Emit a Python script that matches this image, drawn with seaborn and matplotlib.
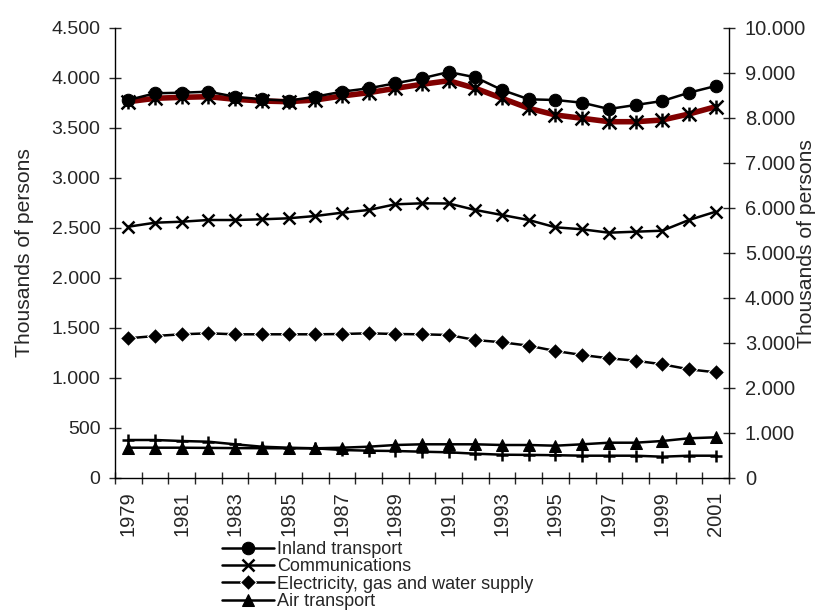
import seaborn as sns
import matplotlib.pyplot as plt
from matplotlib.path import Path
from matplotlib.ticker import FuncFormatter, MultipleLocator

# values (thousands of persons)
years = list(range(1979, 2002))
inland = [3777, 3844, 3850, 3860, 3810, 3784, 3770, 3810, 3860, 3894, 3944, 3994,
          4057, 4004, 3877, 3784, 3777, 3750, 3687, 3727, 3767, 3850, 3917]
communications = [2510, 2550, 2560, 2577, 2577, 2584, 2594, 2617, 2650, 2677, 2734, 2744,
                  2742, 2677, 2627, 2577, 2504, 2484, 2450, 2460, 2470, 2577, 2660]
electricity = [1394, 1417, 1434, 1444, 1434, 1434, 1434, 1434, 1437, 1444, 1437, 1434,
               1427, 1377, 1354, 1320, 1267, 1227, 1194, 1170, 1134, 1084, 1054]
air = [300, 300, 300, 298, 296, 295, 294, 294, 300, 310, 327, 334,
       334, 334, 327, 327, 320, 334, 350, 350, 367, 394, 404]
other = [377, 377, 367, 360, 334, 310, 300, 294, 277, 270, 267, 260,
         254, 240, 230, 228, 225, 220, 220, 220, 210, 220, 220]
total = [8356, 8431, 8453, 8467, 8409, 8371, 8356, 8393, 8482, 8556, 8653, 8742,
         8822, 8653, 8431, 8209, 8060, 7987, 7911, 7911, 7949, 8082, 8244]

sns.set_style('ticks')
plt.rcParams['font.family'] = ['Liberation Sans', 'DejaVu Sans']

# asterisk marker (x with a vertical bar)
asterisk = Path([(0, -1), (0, 1), (-1, -1), (1, 1), (-1, 1), (1, -1)],
                [Path.MOVETO, Path.LINETO, Path.MOVETO, Path.LINETO, Path.MOVETO, Path.LINETO])

fig = plt.figure(figsize=(8.22, 6.12), dpi=100)
ax = fig.add_axes([115/822, 1 - 477.7/612, 614/822, 450/612])
ax2 = ax.twinx()

line_kw = dict(color='black', linewidth=1.8, markersize=9, markeredgecolor='black')
sns.lineplot(x=years, y=inland, ax=ax, marker='o', label='Inland transport', **line_kw)
sns.lineplot(x=years, y=communications, ax=ax, marker='x', markeredgewidth=1.8,
             label='Communications', **line_kw)
sns.lineplot(x=years, y=electricity, ax=ax, marker='D', label='Electricity, gas and water supply',
             color='black', linewidth=1.8, markersize=8.5)
sns.lineplot(x=years, y=air, ax=ax, marker='^', label='Air transport', **line_kw)
sns.lineplot(x=years, y=other, ax=ax, marker='+', markeredgewidth=1.8, legend=False, **line_kw)

sns.lineplot(x=years, y=total, ax=ax2, color='#800000', linewidth=4, legend=False)
sns.lineplot(x=years, y=total, ax=ax2, marker=asterisk, linestyle='none', color='black',
             markersize=10, markeredgewidth=1.8, markeredgecolor='black', legend=False)

ax.set_zorder(ax2.get_zorder() + 1)
ax.patch.set_visible(False)

ax.set_xlim(1978.5, 2001.5)
ax.set_ylim(0, 4500)
ax2.set_ylim(0, 10000)
ax.yaxis.set_major_locator(MultipleLocator(500))
ax2.yaxis.set_major_locator(MultipleLocator(1000))
fmt = FuncFormatter(lambda v, p: f'{int(v):,}'.replace(',', '.'))
ax.yaxis.set_major_formatter(fmt)
ax2.yaxis.set_major_formatter(fmt)

# ticks between categories, labels on every second year
ax.set_xticks([y - 0.5 for y in years] + [2001.5])
ax.set_xticklabels([])
ax.set_xticks(years[::2], minor=True)
ax.set_xticklabels([str(y) for y in years[::2]], minor=True, rotation=90)
ax.tick_params(axis='x', which='major', direction='inout', length=9, width=1)
ax.tick_params(axis='x', which='minor', length=0, pad=10, labelsize=14.5)
ax.tick_params(axis='y', direction='inout', length=9, width=1, pad=6, labelsize=14)
ax2.tick_params(axis='y', direction='inout', length=9, width=1, pad=7, labelsize=14.5)

for a in (ax, ax2):
    a.spines['top'].set_visible(False)
    for s in ('left', 'right', 'bottom'):
        a.spines[s].set_color('black')
        a.spines[s].set_linewidth(1)
    a.set_xlabel('')
ax.spines['right'].set_visible(False)
ax2.spines['left'].set_visible(False)
ax2.spines['bottom'].set_visible(False)

ax.set_ylabel('Thousands of persons', fontsize=15.2)
ax2.set_ylabel('Thousands of persons', fontsize=15.2)
ax.yaxis.set_label_coords(-0.132, 0.5)
ax2.yaxis.set_label_coords(1.11, 0.52)

handles, labels = ax.get_legend_handles_labels()
ax.get_legend().remove()
fig.legend(handles, labels, loc='upper left', bbox_to_anchor=(222/822, 1 - 541/612),
           frameon=False, fontsize=13, handlelength=2.9, handletextpad=0.15,
           labelspacing=0.02, borderpad=0, borderaxespad=0)

fig.savefig('out.png', dpi=100)
